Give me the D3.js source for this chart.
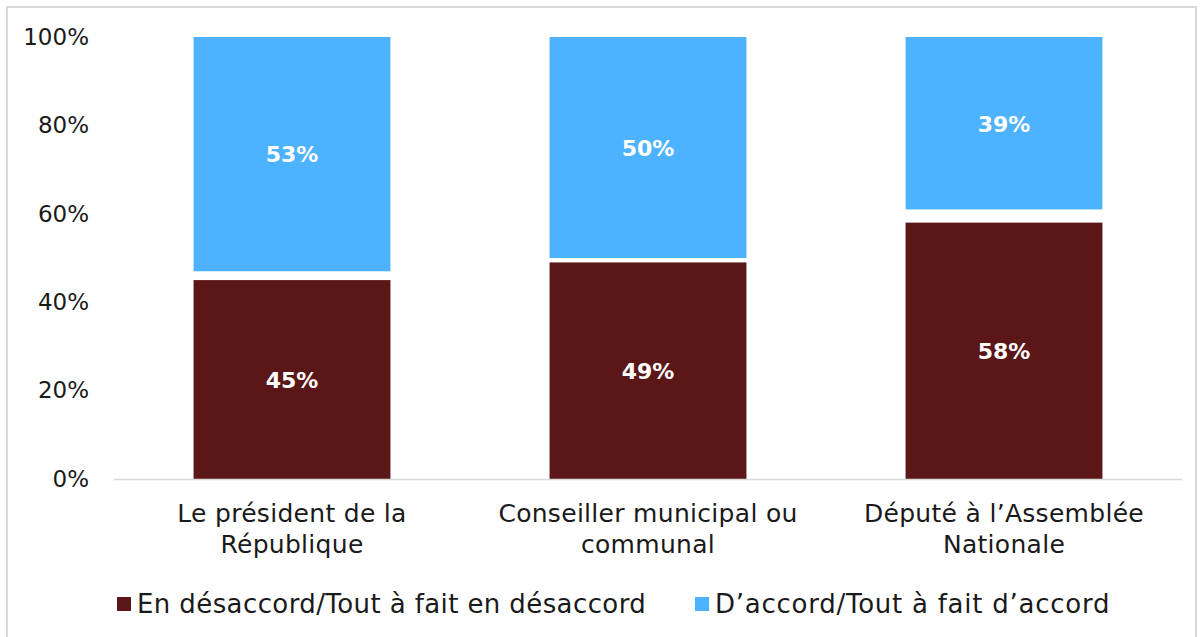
<!DOCTYPE html>
<html>
<head>
<meta charset="utf-8">
<script src="https://cdn.jsdelivr.net/npm/d3@7"></script>
<style>
  body { margin: 0; background: #fff; }
  svg text { font-family: "DejaVu Sans", sans-serif; }
</style>
</head>
<body>
<div id="chart-area"></div>
<script>
// data
const categories = [
  ['Le président de la', 'République'],
  ['Conseiller municipal ou', 'communal'],
  ['Député à l\u2019Assemblée', 'Nationale'],
];
const disagree = [45, 49, 58];
const agree = [53, 50, 39];
const seriesNames = ['En désaccord/Tout à fait en désaccord', 'D\u2019accord/Tout à fait d\u2019accord'];
const yTicks = [0, 20, 40, 60, 80, 100];

const widthSvg = 1203;
const heightSvg = 637;
const margin = { top: 37, right: 21, bottom: 158, left: 114 };
const widthChart = widthSvg - margin.left - margin.right;
const heightChart = heightSvg - margin.top - margin.bottom;
const colors = ['#5b1718', '#4db2ff'];

const svg = d3.select('#chart-area').append('svg')
  .attr('width', widthSvg)
  .attr('height', heightSvg);

// outer frame
svg.append('rect')
  .attr('x', 7).attr('y', 7)
  .attr('width', 1189).attr('height', 640)
  .attr('fill', 'none')
  .attr('stroke', '#d9d9d9')
  .attr('stroke-width', 2);

const chart = svg.append('g')
  .attr('transform', `translate(${margin.left}, ${margin.top})`);

const scaleX = d3.scaleBand()
  .domain(d3.range(categories.length))
  .range([0, widthChart])
  .paddingInner(0.447)
  .paddingOuter(0.2235);

const scaleY = d3.scaleLinear()
  .domain([0, 100])
  .range([heightChart, 0]);

// y axis labels
const axisY = d3.axisLeft(scaleY)
  .tickValues(yTicks)
  .tickFormat(d => d + '%')
  .tickSize(0)
  .tickPadding(25);
const axisGroupY = chart.append('g').call(axisY);
axisGroupY.select('.domain').remove();
axisGroupY.selectAll('text')
  .attr('font-size', '23px')
  .attr('fill', '#1a1a1a')
  .style('font-family', '"DejaVu Sans", sans-serif');

// bars: disagree from the bottom, agree hanging from the top
const rows = categories.map((c, i) => ({ i, dis: disagree[i], agr: agree[i] }));

chart.selectAll('rect.dis')
  .data(rows)
  .enter().append('rect')
    .attr('class', 'dis')
    .attr('x', d => scaleX(d.i))
    .attr('y', d => scaleY(d.dis))
    .attr('width', scaleX.bandwidth())
    .attr('height', d => heightChart - scaleY(d.dis))
    .attr('fill', colors[0]);

chart.selectAll('rect.agr')
  .data(rows)
  .enter().append('rect')
    .attr('class', 'agr')
    .attr('x', d => scaleX(d.i))
    .attr('y', scaleY(100))
    .attr('width', scaleX.bandwidth())
    .attr('height', d => scaleY(100 - d.agr) - scaleY(100))
    .attr('fill', colors[1]);

// value labels
chart.selectAll('text.lab-dis')
  .data(rows)
  .enter().append('text')
    .attr('class', 'lab-dis')
    .attr('x', d => scaleX(d.i) + scaleX.bandwidth() / 2)
    .attr('y', d => scaleY(d.dis / 2))
    .attr('dy', '0.38em')
    .attr('text-anchor', 'middle')
    .attr('font-size', '22px')
    .attr('font-weight', 'bold')
    .attr('fill', '#fff')
    .text(d => d.dis + '%');

chart.selectAll('text.lab-agr')
  .data(rows)
  .enter().append('text')
    .attr('class', 'lab-agr')
    .attr('x', d => scaleX(d.i) + scaleX.bandwidth() / 2)
    .attr('y', d => scaleY(100 - d.agr / 2))
    .attr('dy', '0.38em')
    .attr('text-anchor', 'middle')
    .attr('font-size', '22px')
    .attr('font-weight', 'bold')
    .attr('fill', '#fff')
    .text(d => d.agr + '%');

// baseline
chart.append('line')
  .attr('x1', 0).attr('x2', widthChart)
  .attr('y1', heightChart + 0.5).attr('y2', heightChart + 0.5)
  .attr('stroke', '#d9d9d9')
  .attr('stroke-width', 1.5);

// category labels
const catText = chart.selectAll('text.cat')
  .data(categories)
  .enter().append('text')
    .attr('class', 'cat')
    .attr('text-anchor', 'middle')
    .attr('font-size', '25px')
    .attr('letter-spacing', '0.3px')
    .attr('fill', '#1a1a1a')
    .attr('transform', (d, i) => `translate(${scaleX(i) + scaleX.bandwidth() / 2}, ${heightChart + 43})`);
catText.selectAll('tspan')
  .data(d => d)
  .enter().append('tspan')
    .attr('x', 0)
    .attr('dy', (d, j) => j === 0 ? 0 : 31)
    .text(d => d);

// legend
const legendX = [117, 695];
const legend = svg.selectAll('g.legend')
  .data(seriesNames)
  .enter().append('g')
    .attr('class', 'legend')
    .attr('transform', (d, i) => `translate(${legendX[i]}, 597)`);
legend.append('rect')
  .attr('width', 14).attr('height', 14)
  .attr('fill', (d, i) => colors[i]);
legend.append('text')
  .attr('x', 20)
  .attr('y', 7)
  .attr('dy', '0.36em')
  .attr('font-size', '26px')
  .attr('letter-spacing', (d, i) => i === 0 ? '0.4px' : '0.75px')
  .attr('fill', '#1a1a1a')
  .text(d => d);
</script>
</body>
</html>
